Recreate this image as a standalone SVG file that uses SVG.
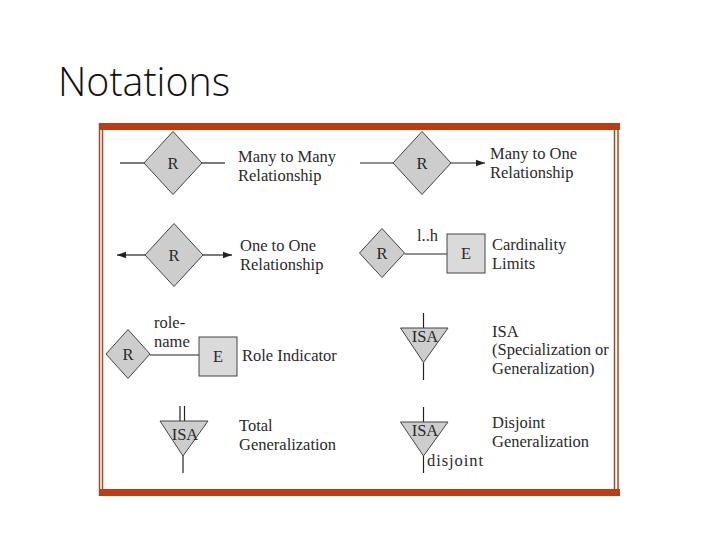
<svg xmlns="http://www.w3.org/2000/svg" width="720" height="540" viewBox="0 0 720 540">
<defs>
<style>
.t{font-family:"Liberation Serif","Times New Roman",serif;font-size:16.5px;fill:#2a2a2a}
.c{text-anchor:middle}
.sh{fill:#cdcdcd;stroke:#444;stroke-width:1}
.box{fill:#dadada;stroke:#444;stroke-width:1}
.ln{stroke:#222;stroke-width:1.2;fill:none}
.bar{fill:#c23a10}
.side{stroke:#9e4a22;stroke-width:1.5}
</style>
<marker id="ah" viewBox="0 0 10 10" refX="10" refY="5" markerWidth="9" markerHeight="9" markerUnits="userSpaceOnUse" orient="auto">
<path d="M0,1.5 L10,5 L0,8.5 Z" fill="#222"/>
</marker>
</defs>
<rect width="720" height="540" fill="#fff"/>
<text x="58" y="96" font-family="'Open Sans','Noto Sans',sans-serif" font-weight="300" font-size="40" fill="#111" textLength="172" lengthAdjust="spacingAndGlyphs">Notations</text>
<g id="frame">
<rect class="bar" x="99" y="123" width="521" height="7"/>
<rect class="bar" x="99" y="489" width="521" height="7"/>
<line class="side" x1="99.5" y1="123" x2="99.5" y2="496"/>
<line class="side" x1="102.5" y1="123" x2="102.5" y2="496"/>
<line class="side" x1="614.5" y1="123" x2="614.5" y2="496"/>
<line class="side" x1="618" y1="123" x2="618" y2="496"/>
</g>
<g id="connectors">
<line class="ln" x1="120" y1="163" x2="144" y2="163"/>
<line class="ln" x1="202" y1="163" x2="225" y2="163"/>
<line class="ln" x1="145" y1="255" x2="117" y2="255" marker-end="url(#ah)"/>
<line class="ln" x1="203" y1="255" x2="232" y2="255" marker-end="url(#ah)"/>
<line class="ln" x1="360" y1="163" x2="393" y2="163"/>
<line class="ln" x1="451" y1="163" x2="485" y2="163" marker-end="url(#ah)"/>
<line class="ln" x1="404.5" y1="254" x2="447" y2="254"/>
<line class="ln" x1="150" y1="355" x2="199" y2="355"/>
<line class="ln" x1="180" y1="406" x2="180" y2="421"/>
<line class="ln" x1="184.5" y1="406" x2="184.5" y2="421"/>
<line class="ln" x1="183" y1="456" x2="183" y2="473"/>
<line class="ln" x1="423.5" y1="313" x2="423.5" y2="328"/>
<line class="ln" x1="423.5" y1="362.5" x2="423.5" y2="380"/>
<line class="ln" x1="423.5" y1="407" x2="423.5" y2="422"/>
<line class="ln" x1="423.5" y1="456" x2="423.5" y2="473"/>
</g>
<g id="many-to-many">
<polygon class="sh" points="173,131.5 202,163 173,194.5 144,163"/>
<text class="t c" x="173" y="169">R</text>
<text class="t" x="238" y="162">Many to Many</text>
<text class="t" x="238" y="181">Relationship</text>
</g>
<g id="one-to-one">
<polygon class="sh" points="174,223.5 203,255 174,286.5 145,255"/>
<text class="t c" x="174" y="261">R</text>
<text class="t" x="240" y="251">One to One</text>
<text class="t" x="240" y="270">Relationship</text>
</g>
<g id="many-to-one">
<polygon class="sh" points="422,131.5 451,163 422,194.5 393,163"/>
<text class="t c" x="422" y="169">R</text>
<text class="t" x="490" y="159">Many to One</text>
<text class="t" x="490" y="178">Relationship</text>
</g>
<g id="cardinality">
<polygon class="sh" points="382,228.5 404.5,253 382,277.5 359.5,253"/>
<text class="t c" x="382" y="259">R</text>
<rect class="box" x="447" y="234" width="38" height="39"/>
<text class="t c" x="466" y="259">E</text>
<text class="t" x="417" y="241">l..h</text>
<text class="t" x="492" y="250">Cardinality</text>
<text class="t" x="492" y="269">Limits</text>
</g>
<g id="role-indicator">
<polygon class="sh" points="128,329.5 150,354 128,378.5 106,354"/>
<text class="t c" x="128" y="360">R</text>
<rect class="box" x="199" y="337" width="38" height="39"/>
<text class="t c" x="218" y="362">E</text>
<text class="t" x="154" y="328">role-</text>
<text class="t" x="154" y="347">name</text>
<text class="t" x="242" y="361">Role Indicator</text>
</g>
<g id="total-generalization">
<polygon class="sh" points="160,421 208,421 183,456"/>
<text class="t c" x="185" y="440">ISA</text>
<text class="t" x="239" y="431">Total</text>
<text class="t" x="239" y="450">Generalization</text>
</g>
<g id="isa">
<polygon class="sh" points="400.5,328 448,328 423.5,362.5"/>
<text class="t c" x="425" y="342">ISA</text>
<text class="t" x="492" y="337">ISA</text>
<text class="t" x="492" y="355">(Specialization or</text>
<text class="t" x="492" y="374">Generalization)</text>
</g>
<g id="disjoint-generalization">
<polygon class="sh" points="400.5,422 448,422 423.5,456"/>
<text class="t c" x="425" y="436">ISA</text>
<text class="t" x="427" y="466" textLength="56">disjoint</text>
<text class="t" x="492" y="428">Disjoint</text>
<text class="t" x="492" y="447">Generalization</text>
</g>
</svg>
